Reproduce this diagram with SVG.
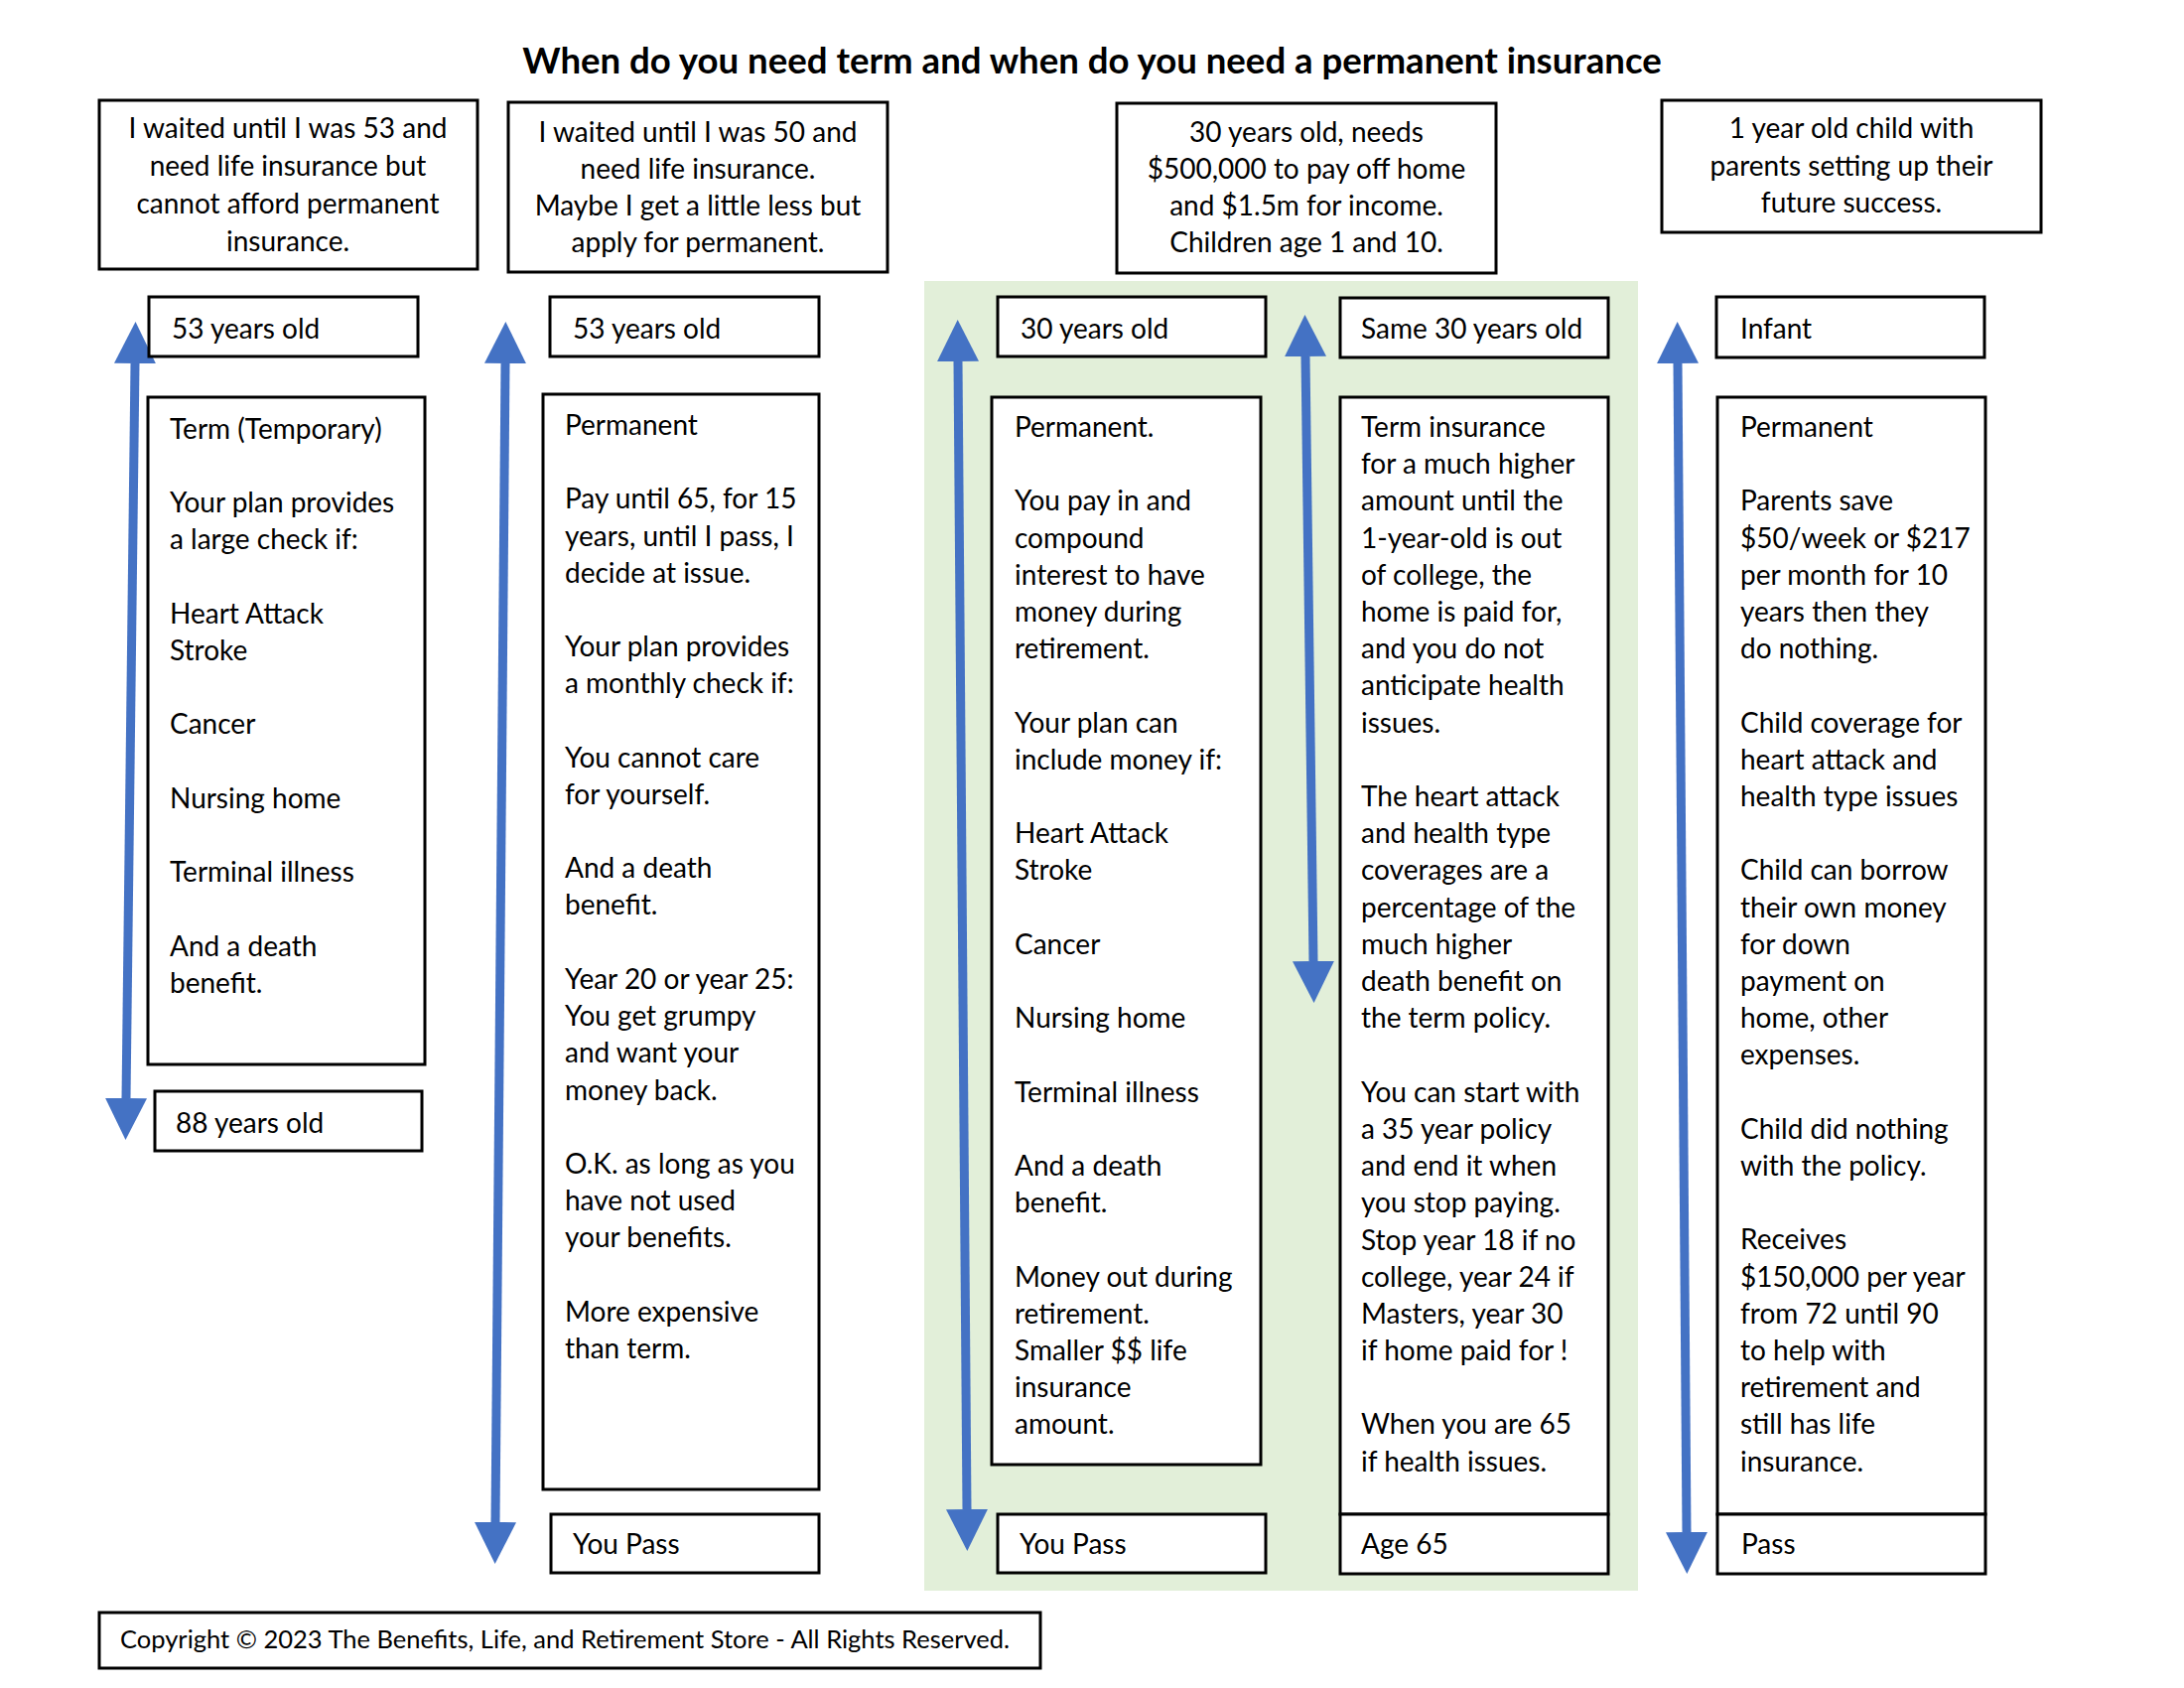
<svg xmlns="http://www.w3.org/2000/svg" width="2200" height="1700" viewBox="0 0 2200 1700">
<style>
.box{fill:#fff;stroke:#000;stroke-width:3}
.t{font-family:Lato,"Liberation Sans",sans-serif;font-size:28px;fill:#000}
.c{text-anchor:middle}
.title{font-family:Lato,"Liberation Sans",sans-serif;font-size:36.6px;font-weight:bold;fill:#000;text-anchor:middle}
.arr{stroke:#4472c4;stroke-width:9;fill:none;marker-start:url(#ah);marker-end:url(#ah)}
</style>
<defs>
<marker id="ah" viewBox="0 0 42 42" refX="0" refY="21" markerWidth="42" markerHeight="42" markerUnits="userSpaceOnUse" orient="auto-start-reverse">
<path d="M0,0 L42,21 L0,42 z" fill="#4472c4"/>
</marker>
</defs>
<rect width="2200" height="1700" fill="#fff"/>
<text class="title" x="1100" y="74">When do you need term and when do you need a permanent insurance</text>
<rect id="green-bg" x="931" y="283" width="719" height="1319" fill="#e2efd9"/>

<g id="connectors">
<line class="arr" x1="136" y1="366" x2="127" y2="1106"/>
<line class="arr" x1="509" y1="366" x2="499" y2="1533"/>
<line class="arr" x1="965" y1="364" x2="974" y2="1520"/>
<line class="arr" x1="1315" y1="359" x2="1323" y2="968"/>
<line class="arr" x1="1690" y1="366" x2="1699" y2="1543"/>
</g>

<g id="scenario1">
<rect class="box" x="100" y="101" width="381" height="170"/>
<text class="t c"><tspan x="290" y="139">I waited until I was 53 and</tspan><tspan x="290" y="177">need life insurance but</tspan><tspan x="290" y="215">cannot afford permanent</tspan><tspan x="290" y="253">insurance.</tspan></text>
</g>
<g id="scenario2">
<rect class="box" x="512" y="103" width="382" height="171"/>
<text class="t c"><tspan x="703" y="143">I waited until I was 50 and</tspan><tspan x="703" y="180">need life insurance.</tspan><tspan x="703" y="217">Maybe I get a little less but</tspan><tspan x="703" y="254">apply for permanent.</tspan></text>
</g>
<g id="scenario3">
<rect class="box" x="1125" y="104" width="382" height="171"/>
<text class="t c"><tspan x="1316" y="143">30 years old, needs</tspan><tspan x="1316" y="180">$500,000 to pay off home</tspan><tspan x="1316" y="217">and $1.5m for income.</tspan><tspan x="1316" y="254">Children age 1 and 10.</tspan></text>
</g>
<g id="scenario4">
<rect class="box" x="1674" y="101" width="382" height="133"/>
<text class="t c"><tspan x="1865" y="139">1 year old child with</tspan><tspan x="1865" y="177">parents setting up their</tspan><tspan x="1865" y="214">future success.</tspan></text>
</g>

<g id="start1">
<rect class="box" x="150" y="299" width="271" height="60"/>
<text class="t" x="173" y="341">53 years old</text>
</g>
<g id="plan1">
<rect class="box" x="149" y="400" width="279" height="672"/>
<text class="t"><tspan x="171" y="442">Term (Temporary)</tspan><tspan x="171" y="516">Your plan provides</tspan><tspan x="171" y="553">a large check if:</tspan><tspan x="171" y="628">Heart Attack</tspan><tspan x="171" y="665">Stroke</tspan><tspan x="171" y="739">Cancer</tspan><tspan x="171" y="814">Nursing home</tspan><tspan x="171" y="888">Terminal illness</tspan><tspan x="171" y="963">And a death</tspan><tspan x="171" y="1000">benefit.</tspan></text>
</g>
<g id="end1">
<rect class="box" x="156" y="1099" width="269" height="60"/>
<text class="t" x="177" y="1141">88 years old</text>
</g>

<g id="start2">
<rect class="box" x="554" y="299" width="271" height="60"/>
<text class="t" x="577" y="341">53 years old</text>
</g>
<g id="plan2">
<rect class="box" x="547" y="397" width="278" height="1103"/>
<text class="t"><tspan x="569" y="438">Permanent</tspan><tspan x="569" y="512">Pay until 65, for 15</tspan><tspan x="569" y="550">years, until I pass, I</tspan><tspan x="569" y="587">decide at issue.</tspan><tspan x="569" y="661">Your plan provides</tspan><tspan x="569" y="698">a monthly check if:</tspan><tspan x="569" y="773">You cannot care</tspan><tspan x="569" y="810">for yourself.</tspan><tspan x="569" y="884">And a death</tspan><tspan x="569" y="921">benefit.</tspan><tspan x="569" y="996">Year 20 or year 25:</tspan><tspan x="569" y="1033">You get grumpy</tspan><tspan x="569" y="1070">and want your</tspan><tspan x="569" y="1108">money back.</tspan><tspan x="569" y="1182">O.K. as long as you</tspan><tspan x="569" y="1219">have not used</tspan><tspan x="569" y="1256">your benefits.</tspan><tspan x="569" y="1331">More expensive</tspan><tspan x="569" y="1368">than term.</tspan></text>
</g>
<g id="end2">
<rect class="box" x="555" y="1525" width="270" height="59"/>
<text class="t" x="577" y="1565">You Pass</text>
</g>

<g id="start3">
<rect class="box" x="1005" y="299" width="270" height="60"/>
<text class="t" x="1028" y="341">30 years old</text>
</g>
<g id="plan3">
<rect class="box" x="999" y="400" width="271" height="1075"/>
<text class="t"><tspan x="1022" y="440">Permanent.</tspan><tspan x="1022" y="514">You pay in and</tspan><tspan x="1022" y="552">compound</tspan><tspan x="1022" y="589">interest to have</tspan><tspan x="1022" y="626">money during</tspan><tspan x="1022" y="663">retirement.</tspan><tspan x="1022" y="738">Your plan can</tspan><tspan x="1022" y="775">include money if:</tspan><tspan x="1022" y="849">Heart Attack</tspan><tspan x="1022" y="886">Stroke</tspan><tspan x="1022" y="961">Cancer</tspan><tspan x="1022" y="1035">Nursing home</tspan><tspan x="1022" y="1110">Terminal illness</tspan><tspan x="1022" y="1184">And a death</tspan><tspan x="1022" y="1221">benefit.</tspan><tspan x="1022" y="1296">Money out during</tspan><tspan x="1022" y="1333">retirement.</tspan><tspan x="1022" y="1370">Smaller $$ life</tspan><tspan x="1022" y="1407">insurance</tspan><tspan x="1022" y="1444">amount.</tspan></text>
</g>
<g id="end3">
<rect class="box" x="1005" y="1525" width="270" height="59"/>
<text class="t" x="1027" y="1565">You Pass</text>
</g>

<g id="start4">
<rect class="box" x="1350" y="300" width="270" height="60"/>
<text class="t" x="1371" y="341">Same 30 years old</text>
</g>
<g id="plan4">
<rect class="box" x="1350" y="400" width="270" height="1125"/>
<text class="t"><tspan x="1371" y="440">Term insurance</tspan><tspan x="1371" y="477">for a much higher</tspan><tspan x="1371" y="514">amount until the</tspan><tspan x="1371" y="552">1-year-old is out</tspan><tspan x="1371" y="589">of college, the</tspan><tspan x="1371" y="626">home is paid for,</tspan><tspan x="1371" y="663">and you do not</tspan><tspan x="1371" y="700">anticipate health</tspan><tspan x="1371" y="738">issues.</tspan><tspan x="1371" y="812">The heart attack</tspan><tspan x="1371" y="849">and health type</tspan><tspan x="1371" y="886">coverages are a</tspan><tspan x="1371" y="924">percentage of the</tspan><tspan x="1371" y="961">much higher</tspan><tspan x="1371" y="998">death benefit on</tspan><tspan x="1371" y="1035">the term policy.</tspan><tspan x="1371" y="1110">You can start with</tspan><tspan x="1371" y="1147">a 35 year policy</tspan><tspan x="1371" y="1184">and end it when</tspan><tspan x="1371" y="1221">you stop paying.</tspan><tspan x="1371" y="1259">Stop year 18 if no</tspan><tspan x="1371" y="1296">college, year 24 if</tspan><tspan x="1371" y="1333">Masters, year 30</tspan><tspan x="1371" y="1370">if home paid for !</tspan><tspan x="1371" y="1444">When you are 65</tspan><tspan x="1371" y="1482">if health issues.</tspan></text>
</g>
<g id="end4">
<rect class="box" x="1350" y="1525" width="270" height="60"/>
<text class="t" x="1371" y="1565">Age 65</text>
</g>

<g id="start5">
<rect class="box" x="1729" y="299" width="270" height="61"/>
<text class="t" x="1753" y="341">Infant</text>
</g>
<g id="plan5">
<rect class="box" x="1730" y="400" width="270" height="1125"/>
<text class="t"><tspan x="1753" y="440">Permanent</tspan><tspan x="1753" y="514">Parents save</tspan><tspan x="1753" y="552">$50/week or $217</tspan><tspan x="1753" y="589">per month for 10</tspan><tspan x="1753" y="626">years then they</tspan><tspan x="1753" y="663">do nothing.</tspan><tspan x="1753" y="738">Child coverage for</tspan><tspan x="1753" y="775">heart attack and</tspan><tspan x="1753" y="812">health type issues</tspan><tspan x="1753" y="886">Child can borrow</tspan><tspan x="1753" y="924">their own money</tspan><tspan x="1753" y="961">for down</tspan><tspan x="1753" y="998">payment on</tspan><tspan x="1753" y="1035">home, other</tspan><tspan x="1753" y="1072">expenses.</tspan><tspan x="1753" y="1147">Child did nothing</tspan><tspan x="1753" y="1184">with the policy.</tspan><tspan x="1753" y="1258">Receives</tspan><tspan x="1753" y="1296">$150,000 per year</tspan><tspan x="1753" y="1333">from 72 until 90</tspan><tspan x="1753" y="1370">to help with</tspan><tspan x="1753" y="1407">retirement and</tspan><tspan x="1753" y="1444">still has life</tspan><tspan x="1753" y="1482">insurance.</tspan></text>
</g>
<g id="end5">
<rect class="box" x="1730" y="1525" width="270" height="60"/>
<text class="t" x="1754" y="1565">Pass</text>
</g>

<g id="copyright">
<rect class="box" x="100" y="1624" width="948" height="56"/>
<text class="t" style="font-size:25.5px" x="121" y="1660">Copyright © 2023 The Benefits, Life, and Retirement Store - All Rights Reserved.</text>
</g>
</svg>
